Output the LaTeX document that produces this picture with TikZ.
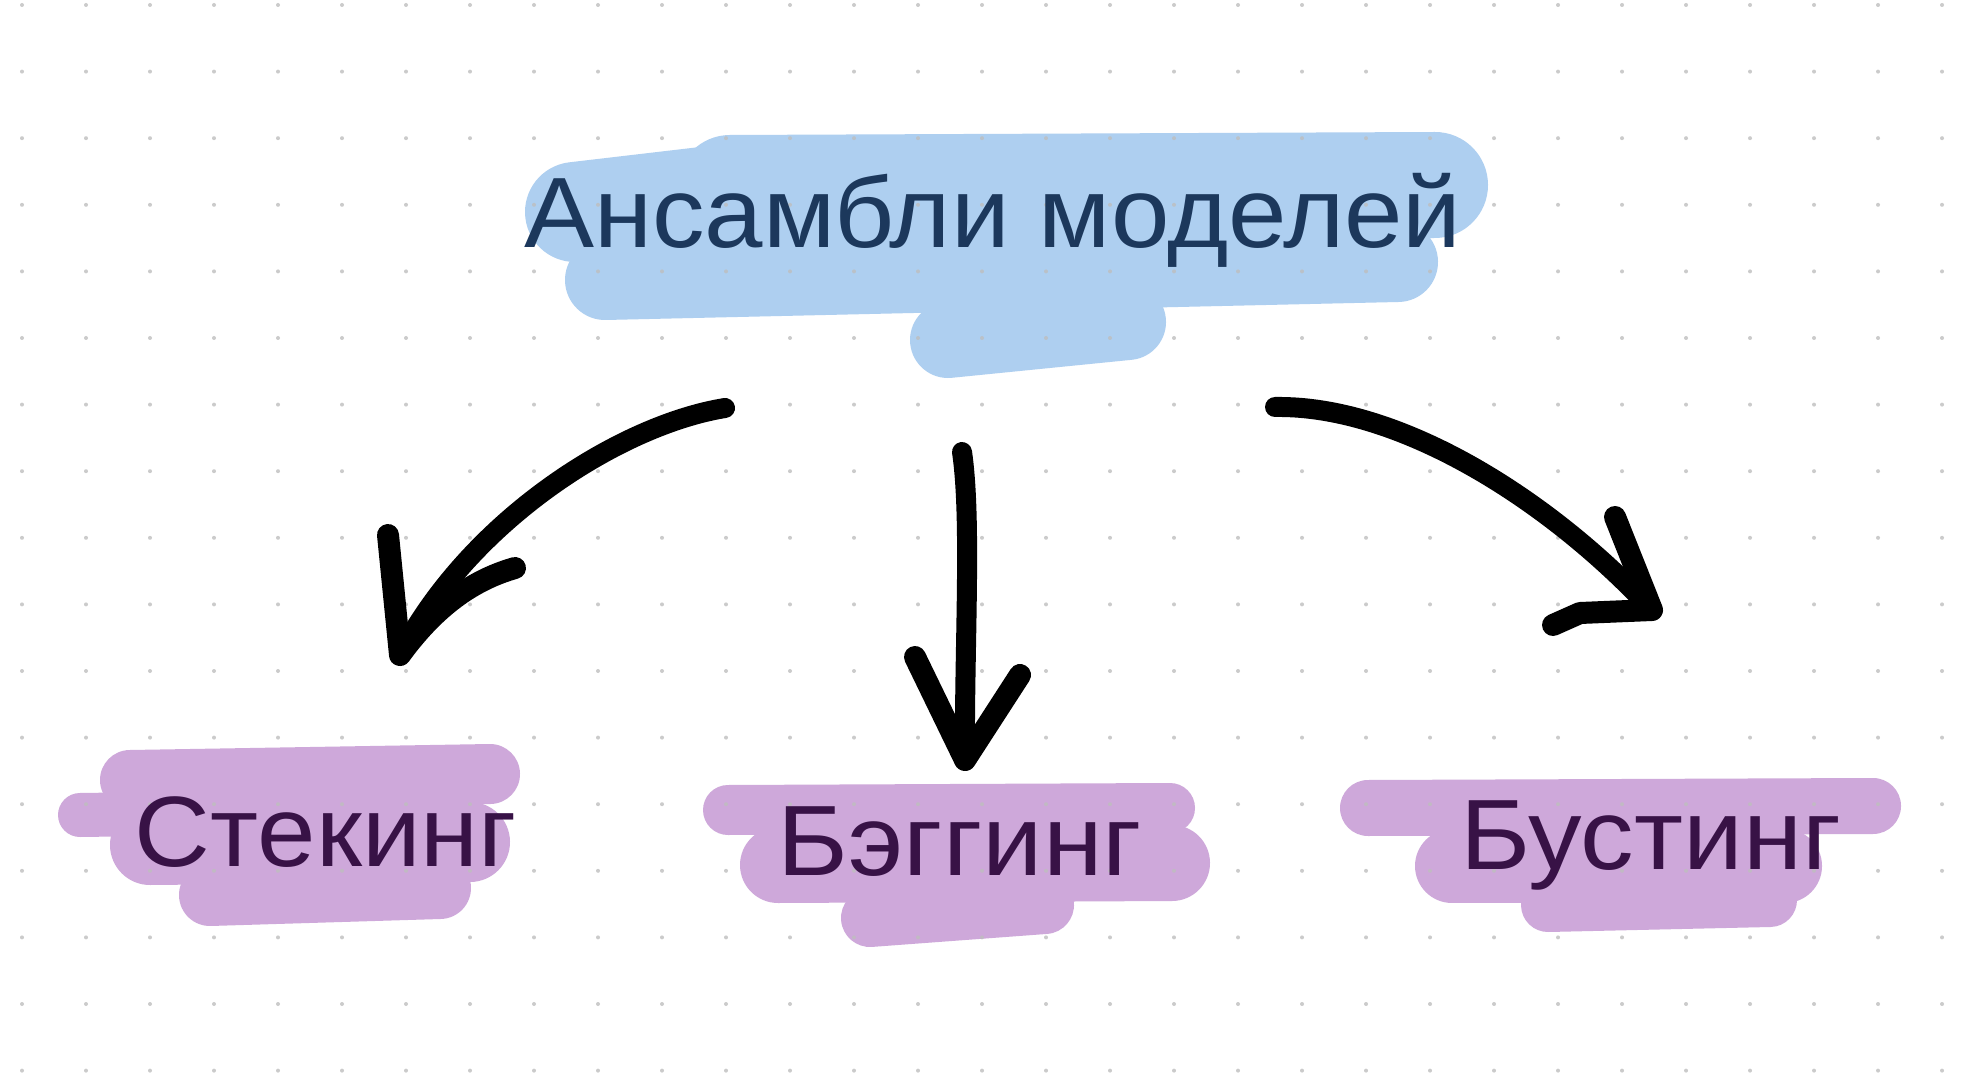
\documentclass[tikz,border=0pt]{standalone}
\usepackage{fontspec}
\setmainfont{Liberation Sans}
\usepackage{graphicx}
\definecolor{blobblue}{RGB}{174,207,240}
\definecolor{blobpurple}{RGB}{206,168,218}
\definecolor{titleink}{RGB}{28,56,92}
\definecolor{labelink}{RGB}{56,18,70}
\definecolor{dotgray}{RGB}{190,190,190}
\tikzset{
  bluebrush/.style={draw=blobblue,line cap=round,line join=round},
  purplebrush/.style={draw=blobpurple,line cap=round,line join=round},
  ink/.style={draw=black,line width=10pt,line cap=round,line join=round},
  inkhead/.style={draw=black,line width=11pt,line cap=round,line join=round},
  titletext/.style={anchor=base,inner sep=0pt,text=titleink,font=\fontsize{50}{60}\selectfont},
  labeltext/.style={anchor=base,inner sep=0pt,text=labelink,font=\fontsize{50}{60}\selectfont},
}
\begin{document}
\begin{tikzpicture}[x=0.5pt,y=-0.5pt]
\useasboundingbox (0,0) rectangle (1968,1090);
\fill[white] (0,0) rectangle (1968,1090);

% blue blob
\draw[bluebrush,line width=50pt] (575,212) -- (720,195);
\draw[bluebrush,line width=53pt] (730,188) -- (1435,185);
\draw[bluebrush,line width=40pt] (605,280) -- (1398,262);
\draw[bluebrush,line width=38pt] (948,340) -- (1128,322);

% purple blobs
\draw[purplebrush,line width=30pt] (130,780) -- (490,774);
\draw[purplebrush,line width=22pt] (80,815) -- (300,812);
\draw[purplebrush,line width=40pt] (150,845) -- (470,842);
\draw[purplebrush,line width=31pt] (210,895) -- (440,888);

\draw[purplebrush,line width=25pt] (728,810) -- (1170,808);
\draw[purplebrush,line width=38pt] (778,865) -- (1172,863);
\draw[purplebrush,line width=29pt] (870,918) -- (1045,905);

\draw[purplebrush,line width=28pt] (1368,808) -- (1873,806);
\draw[purplebrush,line width=37pt] (1452,866) -- (1785,866);
\draw[purplebrush,line width=27pt] (1548,905) -- (1770,900);

% dot grid
\foreach \i in {0,...,30}{
  \foreach \j in {0,...,16}{
    \fill[dotgray,opacity=0.8] ({22+64*\i},{5+66.6*\j}) circle (1pt);
  }
}

% texts
\node[titletext] (title) at (993,248) {\scalebox{1.05}[1]{Ансамбли моделей}};
\node[labeltext] (stack) at (326,866) {\scalebox{1.05}[1]{Стекинг}};
\node[labeltext] (bag) at (960,875) {\scalebox{1.08}[1]{Бэггинг}};
\node[labeltext] (boost) at (1651,869) {\scalebox{1.07}[1]{Бустинг}};

% arrows
\coordinate (ls) at (725,408);
\coordinate (lt) at (400,655);
\coordinate (lb1) at (388,535);
\coordinate (lb2) at (515,568);
\coordinate (ms) at (962,452);
\coordinate (mt) at (965,760);
\coordinate (mb1) at (915,657);
\coordinate (mb2) at (1020,675);
\coordinate (rs) at (1275,407);
\coordinate (rt) at (1652,610);
\coordinate (rb1) at (1615,517);
\coordinate (rb2) at (1553,625);

\draw[ink] (ls) .. controls (620,425) and (470,520) .. (lt);
\draw[inkhead] (lb1) -- (lt) .. controls (440,600) and (480,578) .. (lb2);

\draw[ink] (ms) .. controls (972,520) and (964,650) .. (mt);
\draw[inkhead] (mb1) -- (mt) -- (mb2);

\draw[ink] (rs) .. controls (1400,405) and (1550,500) .. (rt);
\draw[inkhead] (rb1) -- (rt) -- (1580,613) -- (rb2);
\end{tikzpicture}
\end{document}
